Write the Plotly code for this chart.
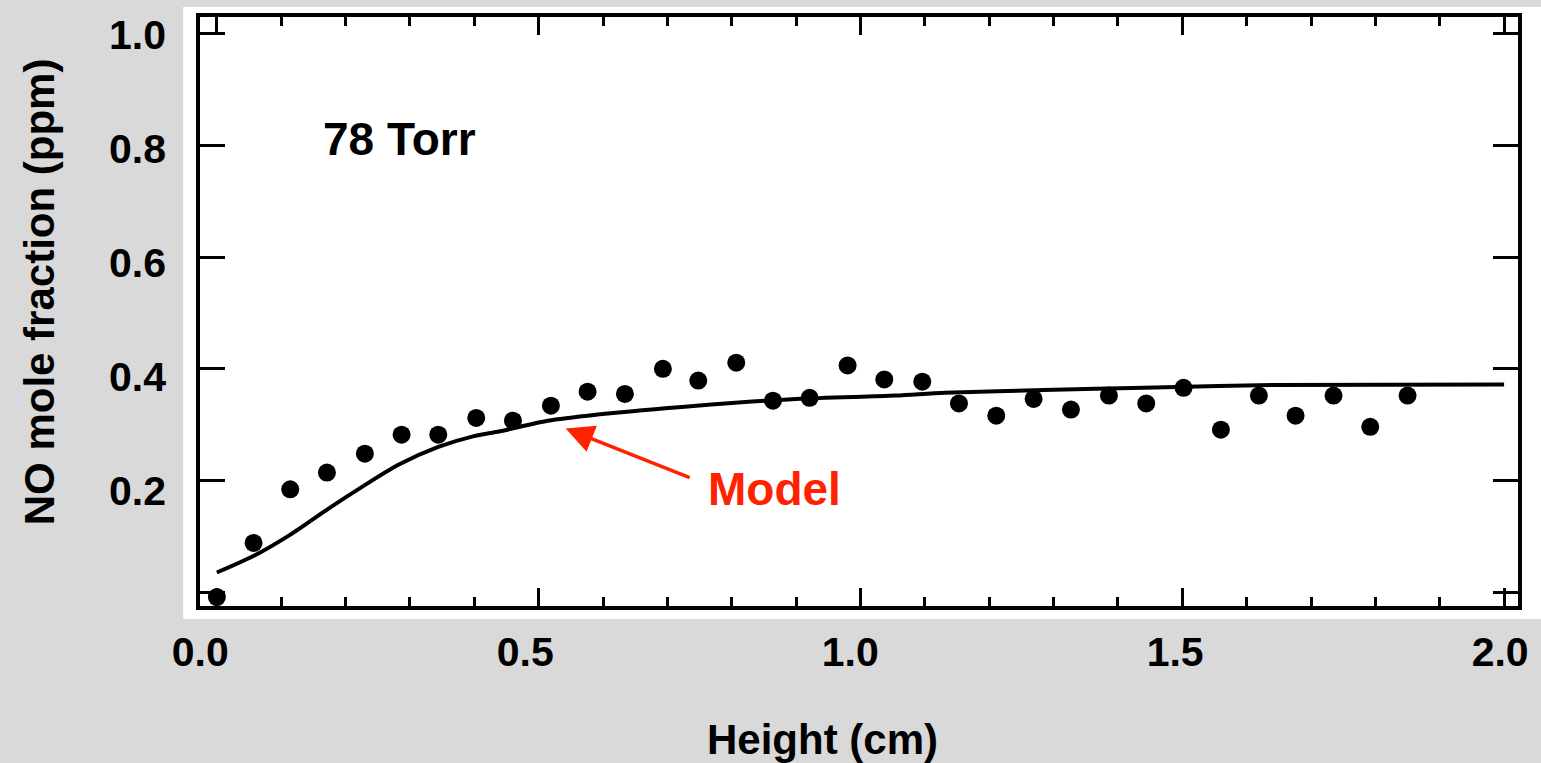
import plotly.graph_objects as go

# Measured NO mole fraction (ppm) vs height (cm), 78 Torr
height_cm = [0.000, 0.057, 0.114, 0.171, 0.230, 0.287, 0.344, 0.403, 0.460, 0.519,
             0.576, 0.634, 0.693, 0.748, 0.807, 0.864, 0.921, 0.980, 1.037, 1.096,
             1.153, 1.211, 1.269, 1.327, 1.386, 1.444, 1.502, 1.560, 1.619, 1.676,
             1.735, 1.792, 1.850]
no_ppm = [-0.009, 0.088, 0.184, 0.214, 0.248, 0.282, 0.282, 0.312, 0.307, 0.334,
          0.359, 0.355, 0.400, 0.379, 0.411, 0.343, 0.348, 0.406, 0.381, 0.377,
          0.338, 0.316, 0.346, 0.327, 0.352, 0.338, 0.366, 0.291, 0.352, 0.316,
          0.352, 0.296, 0.352]

# Model curve
model_x = [0.0, 0.056, 0.113, 0.174, 0.225, 0.282, 0.344, 0.398, 0.44, 0.514,
           0.591, 0.745, 0.90, 1.054, 1.131, 1.285, 1.44, 1.645, 2.0]
model_y = [0.035, 0.064, 0.102, 0.150, 0.188, 0.228, 0.260, 0.279, 0.288, 0.307,
           0.318, 0.334, 0.346, 0.352, 0.357, 0.362, 0.366, 0.371, 0.372]

x_tick_vals = [0.0, 0.5, 1.0, 1.5, 2.0]
x_tick_text = ["0.0", "0.5", "1.0", "1.5", "2.0"]
y_tick_vals = [0.2, 0.4, 0.6, 0.8, 1.0]
y_tick_text = ["0.2", "0.4", "0.6", "0.8", "1.0"]

FONT = "Arial, Liberation Sans, Helvetica, sans-serif"
RED = "#ff2200"

fig = go.Figure()
fig.add_trace(go.Scatter(x=model_x, y=model_y, mode="lines",
                         line=dict(color="black", width=4, shape="spline", smoothing=0.8),
                         showlegend=False, hoverinfo="skip"))
fig.add_trace(go.Scatter(x=height_cm, y=no_ppm, mode="markers",
                         marker=dict(color="black", size=18),
                         showlegend=False, cliponaxis=False))
# invisible trace carrying the label axes
fig.add_trace(go.Scatter(x=[None], y=[None], xaxis="x2", yaxis="y2",
                         showlegend=False, hoverinfo="skip"))

fig.update_layout(
    width=1541, height=763,
    paper_bgcolor="#d9d9d9", plot_bgcolor="white",
    margin=dict(l=200, r=14, t=15, b=157),
    font=dict(family=FONT, color="black"),
    xaxis=dict(range=[-0.0262, 2.0216], tickvals=x_tick_vals, showticklabels=False,
               ticks="inside", ticklen=18, tickwidth=3, tickcolor="black",
               minor=dict(dtick=0.1, ticks="inside", ticklen=9, tickwidth=3, tickcolor="black"),
               showline=True, linewidth=4, linecolor="black", mirror="ticks",
               showgrid=False, zeroline=False, fixedrange=True),
    yaxis=dict(range=[-0.025, 1.0304], tickvals=[0.0] + y_tick_vals, showticklabels=False,
               ticks="inside", ticklen=25, tickwidth=3, tickcolor="black",
               showline=True, linewidth=4, linecolor="black", mirror="ticks",
               showgrid=False, zeroline=False, fixedrange=True),
    xaxis2=dict(overlaying="x", anchor="y2", side="bottom", range=[-0.0005, 2.0275],
                tickvals=x_tick_vals, ticktext=x_tick_text, ticks="", showline=False,
                showgrid=False, zeroline=False, ticklabelstandoff=18,
                tickfont=dict(size=41, family=FONT, color="black", weight="bold")),
    yaxis2=dict(overlaying="y", anchor="x2", side="left", range=[-0.0035, 1.0315],
                tickvals=y_tick_vals, ticktext=y_tick_text, ticks="", showline=False,
                showgrid=False, zeroline=False, ticklabelstandoff=33,
                tickfont=dict(size=41, family=FONT, color="black", weight="bold")),
    shapes=[dict(type="rect", xref="paper", yref="paper", x0=-0.0128, x1=1.03,
                 y0=-0.022, y1=1.0169, fillcolor="white", line=dict(width=0), layer="below")],
    annotations=[
        dict(text="<b>Height (cm)</b>", xref="paper", yref="paper", x=0.4725, y=-0.2267,
             xanchor="center", yanchor="middle", showarrow=False,
             font=dict(size=42, family=FONT, color="black")),
        dict(text="<b>NO mole fraction (ppm)</b>", xref="paper", yref="paper", x=-0.122, y=0.533,
             xanchor="center", yanchor="middle", textangle=-90, showarrow=False,
             font=dict(size=42, family=FONT, color="black")),
        dict(text="<b>78 Torr</b>", xref="x", yref="y", x=0.284, y=0.812,
             xanchor="center", yanchor="middle", showarrow=False,
             font=dict(size=46, family=FONT, color="black")),
        dict(text="<b>Model</b>", xref="x", yref="y", x=0.866, y=0.184,
             xanchor="center", yanchor="middle", showarrow=False,
             font=dict(size=46, family=FONT, color=RED)),
        dict(text="", xref="x", yref="y", x=0.542, y=0.293, axref="x", ayref="y",
             ax=0.737, ay=0.204, showarrow=True, arrowhead=2, arrowsize=1.6,
             arrowwidth=3.5, arrowcolor=RED, standoff=0),
    ],
)

fig.write_html("out.html", config={"displayModeBar": False},
               post_script="document.body.style.margin='0';document.body.style.overflow='hidden';")
